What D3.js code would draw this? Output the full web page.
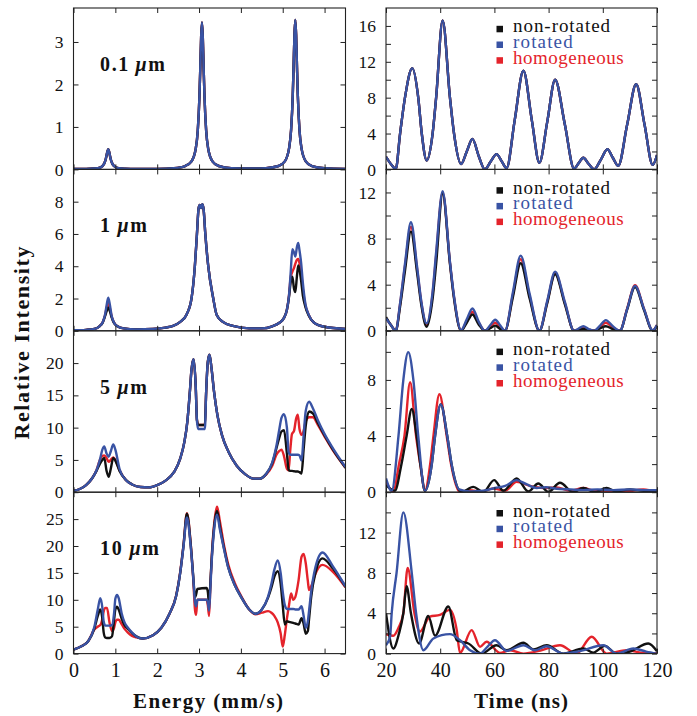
<!DOCTYPE html>
<html><head><meta charset="utf-8">
<script src="https://cdn.jsdelivr.net/npm/d3@7"></script>
<style>body{margin:0;background:#fff}</style>
</head><body>
<svg id="chart" width="697" height="716"></svg>
<script>
// ---------------- DATA ----------------
const thicknessLabels = ["0.1", "1", "5", "10"];
const seriesNames = ["non-rotated", "rotated", "homogeneous"];
const energyTicks = [0, 1, 2, 3, 4, 5, 6];
const timeTicks = [20, 40, 60, 80, 100, 120];

// Energy spectra (left column)
const energy1 = [0, 0.3, 0.5, 0.65, 0.73, 0.77, 0.79, 0.81, 0.83, 0.85, 0.87, 0.89, 0.93, 0.98, 1.08, 1.23, 1.5, 2.0, 2.4, 2.67, 2.82, 2.92, 2.97, 3.01, 3.03, 3.05, 3.07, 3.09, 3.11, 3.13, 3.17, 3.22, 3.32, 3.47, 3.77, 4.2, 4.6, 4.9, 5.05, 5.15, 5.2, 5.24, 5.26, 5.28, 5.30, 5.32, 5.34, 5.36, 5.40, 5.45, 5.55, 5.70, 6.0, 6.5];
const intensity1 = [0.01, 0.01, 0.02, 0.05, 0.13, 0.24, 0.33, 0.42, 0.475, 0.42, 0.33, 0.24, 0.13, 0.07, 0.03, 0.017, 0.01, 0.013, 0.03, 0.08, 0.19, 0.48, 0.92, 1.73, 2.39, 3.11, 3.46, 3.11, 2.39, 1.73, 0.92, 0.48, 0.19, 0.08, 0.03, 0.02, 0.03, 0.08, 0.19, 0.49, 0.93, 1.76, 2.44, 3.17, 3.52, 3.17, 2.44, 1.76, 0.93, 0.49, 0.19, 0.077, 0.026, 0.009];

const energy2 = [0, 0.3, 0.5, 0.62, 0.7, 0.75, 0.79, 0.83, 0.87, 0.91, 0.96, 1.05, 1.2, 1.5, 1.9, 2.2, 2.38, 2.55, 2.7, 2.82, 2.9, 2.95, 2.99, 3.02, 3.05, 3.08, 3.11, 3.15, 3.22, 3.34, 3.42, 3.57, 3.81, 4.2, 4.5, 4.75, 4.92, 5.03, 5.1, 5.15, 5.19, 5.23, 5.27, 5.30, 5.34, 5.37, 5.40, 5.44, 5.48, 5.54, 5.62, 5.75, 6.0, 6.5];
const nonRot2 = [0.03, 0.06, 0.12, 0.28, 0.52, 0.88, 1.2, 1.45, 1.2, 0.85, 0.52, 0.28, 0.15, 0.09, 0.12, 0.2, 0.3, 0.55, 1.0, 2.0, 4.0, 6.0, 7.6, 7.8, 7.6, 7.85, 7.5, 6.0, 4.0, 2.0, 1.0, 0.55, 0.3, 0.15, 0.15, 0.28, 0.5, 0.8, 1.3, 2.1, 3.0, 3.35, 2.6, 2.4, 3.4, 4.05, 3.8, 3.1, 2.2, 1.5, 0.95, 0.5, 0.25, 0.12];
const rot2 = [0.03, 0.06, 0.12, 0.28, 0.55, 0.95, 1.55, 2.05, 1.6, 0.95, 0.55, 0.28, 0.15, 0.09, 0.12, 0.2, 0.3, 0.55, 1.0, 2.0, 4.0, 6.0, 7.6, 7.8, 7.6, 7.85, 7.5, 6.0, 4.0, 2.0, 1.0, 0.55, 0.3, 0.15, 0.15, 0.28, 0.5, 0.8, 1.3, 2.2, 3.6, 5.05, 4.85, 4.6, 5.2, 5.45, 5.0, 4.2, 3.0, 1.7, 1.0, 0.5, 0.25, 0.12];
const homo2 = [0.03, 0.06, 0.12, 0.28, 0.55, 0.92, 1.4, 1.75, 1.4, 0.9, 0.55, 0.28, 0.15, 0.09, 0.12, 0.2, 0.3, 0.55, 1.0, 2.0, 4.0, 6.0, 7.6, 7.8, 7.6, 7.85, 7.5, 6.0, 4.0, 2.0, 1.0, 0.55, 0.3, 0.15, 0.15, 0.28, 0.5, 0.8, 1.3, 2.2, 3.3, 3.65, 3.9, 4.15, 4.4, 4.45, 4.2, 3.6, 2.6, 1.6, 1.0, 0.5, 0.25, 0.12];

const energy3 = [0, 0.15, 0.3, 0.45, 0.55, 0.63, 0.69, 0.735, 0.79, 0.84, 0.89, 0.95, 1.0, 1.1, 1.25, 1.4, 1.6, 1.8, 2.0, 2.2, 2.4, 2.55, 2.65, 2.72, 2.78, 2.82, 2.87, 2.92, 2.95, 2.98, 3.14, 3.17, 3.21, 3.25, 3.30, 3.36, 3.44, 3.55, 3.7, 3.9, 4.1, 4.3, 4.45, 4.6, 4.75, 4.85, 4.92, 4.97, 5.03, 5.1, 5.14, 5.18, 5.22, 5.27, 5.32, 5.36, 5.40, 5.45, 5.50, 5.55, 5.63, 5.72, 5.85, 6.0, 6.2, 6.5];
const nonRot3 = [0.2, 0.5, 1.1, 2.2, 3.3, 4.4, 5.0, 5.3, 3.3, 2.4, 3.6, 5.3, 4.9, 3.3, 1.9, 1.2, 0.8, 0.75, 1.1, 1.8, 3.1, 5.2, 7.8, 10.9, 15.5, 19.0, 20.6, 16.5, 11.2, 10.4, 10.4, 15.5, 20.2, 21.3, 19.1, 15.5, 11.9, 8.8, 6.3, 4.1, 2.8, 2.1, 2.1, 2.8, 4.5, 6.8, 8.5, 9.4, 9.6, 6.0, 3.5, 3.3, 3.3, 3.25, 3.2, 3.2, 3.1, 2.9, 6.7, 10.3, 12.5, 12.2, 10.6, 8.8, 6.6, 3.8];
const rot3 = [0.2, 0.5, 1.1, 2.2, 3.4, 5.0, 6.6, 7.1, 6.0, 5.5, 6.3, 7.4, 6.6, 3.6, 1.9, 1.2, 0.8, 0.75, 1.1, 1.8, 3.1, 5.2, 7.8, 10.9, 15.5, 19.0, 20.6, 16.5, 11.0, 9.8, 9.8, 15.5, 20.2, 21.3, 19.1, 15.5, 11.9, 8.8, 6.3, 4.1, 2.8, 2.1, 2.1, 2.8, 4.6, 7.2, 9.8, 11.5, 12.1, 10.0, 6.2, 5.8, 5.8, 5.8, 5.8, 5.8, 5.7, 4.9, 8.8, 12.6, 14.0, 13.0, 11.0, 9.0, 6.8, 3.9];
const homo3 = [0.2, 0.5, 1.1, 2.2, 3.4, 5.0, 5.6, 5.7, 5.3, 4.7, 5.0, 5.4, 5.0, 3.4, 1.9, 1.2, 0.8, 0.75, 1.1, 1.8, 3.1, 5.2, 7.8, 10.9, 15.5, 19.0, 20.6, 16.5, 11.2, 10.4, 10.4, 15.5, 20.2, 21.3, 19.1, 15.5, 11.9, 8.8, 6.3, 4.1, 2.8, 2.1, 2.1, 2.7, 4.1, 5.8, 6.4, 6.6, 5.6, 3.6, 3.4, 6.5, 9.0, 9.5, 11.4, 12.0, 9.8, 8.9, 9.5, 11.0, 11.6, 11.6, 10.3, 8.6, 6.5, 3.8];

const energy4 = [0, 0.2, 0.35, 0.5, 0.58, 0.64, 0.69, 0.72, 0.76, 0.8, 0.86, 0.92, 0.97, 1.0, 1.04, 1.08, 1.15, 1.22, 1.3, 1.4, 1.5, 1.65, 1.9, 2.1, 2.3, 2.45, 2.55, 2.63, 2.71, 2.8, 2.86, 2.905, 2.93, 2.96, 3.18, 3.21, 3.24, 3.27, 3.3, 3.36, 3.43, 3.5, 3.6, 3.7, 3.85, 4.0, 4.2, 4.35, 4.5, 4.65, 4.73, 4.8, 4.88, 4.95, 5.0, 5.05, 5.1, 5.15, 5.2, 5.25, 5.3, 5.38, 5.45, 5.5, 5.55, 5.6, 5.63, 5.68, 5.78, 5.95, 6.2, 6.5];
const nonRot4 = [0.75, 1.4, 2.3, 4.7, 7.0, 8.2, 6.5, 4.0, 3.0, 2.9, 2.9, 3.2, 6.3, 8.2, 8.7, 8.2, 6.5, 5.3, 4.6, 3.8, 3.2, 2.8, 3.4, 4.8, 7.5, 10.6, 15.0, 20.2, 26.0, 20.4, 14.5, 10.5, 11.0, 12.0, 12.2, 11.5, 9.0, 13.0, 17.3, 23.5, 26.5, 23.5, 19.5, 16.0, 12.8, 10.6, 8.2, 7.4, 8.2, 10.4, 12.3, 14.3, 15.3, 13.0, 9.0, 5.4, 6.0, 5.9, 5.8, 5.7, 5.6, 5.4, 6.6, 5.5, 3.7, 4.2, 6.5, 10.5, 15.0, 17.7, 15.8, 12.4];
const rot4 = [0.75, 1.4, 2.3, 5.0, 8.2, 10.3, 8.5, 6.0, 5.2, 5.2, 5.2, 5.3, 7.5, 10.2, 10.9, 10.3, 7.5, 5.8, 4.8, 3.9, 3.2, 2.8, 3.4, 4.8, 7.5, 10.6, 15.0, 20.0, 25.3, 20.0, 14.3, 9.5, 8.8, 10.0, 10.0, 9.5, 8.0, 12.0, 16.8, 23.0, 25.8, 23.0, 19.3, 15.9, 12.8, 10.6, 8.2, 7.4, 8.2, 10.6, 13.0, 15.6, 17.3, 15.0, 11.5, 9.0, 8.3, 8.3, 8.3, 8.3, 8.2, 8.2, 8.8, 7.0, 4.8, 6.0, 8.0, 11.5, 16.0, 18.8, 16.2, 12.5];
const homo4 = [0.75, 1.4, 2.3, 4.5, 5.0, 5.3, 6.5, 7.8, 8.5, 8.5, 5.8, 4.2, 4.8, 5.8, 6.3, 6.3, 5.5, 4.6, 3.9, 3.3, 3.0, 2.8, 3.4, 4.8, 7.5, 10.7, 15.2, 20.3, 26.1, 20.5, 14.0, 8.0, 7.2, 10.0, 10.0, 9.0, 7.0, 12.5, 17.5, 24.0, 27.3, 24.5, 20.0, 16.5, 13.2, 10.8, 8.2, 7.3, 7.6, 7.9, 7.6, 7.0, 5.8, 3.8, 1.3, 3.5, 6.5, 9.0, 11.2, 10.0, 10.5, 13.7, 18.0, 18.5, 16.8, 13.5, 11.8, 12.5, 14.8, 16.5, 15.2, 12.3];

// Time spectra (right column)
const time1 = [20, 21.8, 23.6, 25.2, 27.0, 29.7, 31.9, 33.2, 35.0, 37.2, 38.5, 40.9, 43.6, 45.1, 47.7, 49.8, 51.9, 54.2, 56.5, 58.7, 60.8, 62.7, 64.5, 67.5, 70.7, 73.8, 76.6, 79.5, 82.4, 86.0, 89.4, 91.1, 92.8, 94.8, 96.8, 99.3, 101.7, 103.7, 105.7, 109.0, 112.3, 115.4, 118.4, 120];
const signal1 = [1.4, 0.6, 0.05, 4.0, 8.0, 11.3, 8.0, 4.0, 1.0, 4.0, 8.0, 16.6, 8.0, 4.0, 0.6, 2.0, 3.4, 1.5, 0.0, 0.9, 1.7, 0.9, 0.15, 5.5, 11.0, 5.5, 0.75, 5.3, 10.0, 5.0, 0.1, 0.7, 1.3, 0.6, 0.0, 1.1, 2.25, 1.3, 0.4, 5.0, 9.5, 5.0, 0.5, 1.6];

const time2 = [20, 21.8, 23.6, 25.2, 27.0, 29.2, 31.5, 33.0, 35.0, 37.2, 38.5, 40.9, 43.6, 45.1, 47.7, 49.8, 51.9, 54.2, 56.5, 58.5, 60.3, 62.2, 63.9, 66.8, 69.7, 73.0, 76.6, 79.5, 82.4, 86.0, 89.4, 91.1, 92.8, 94.8, 96.8, 99.0, 101.1, 103.7, 106.3, 109.0, 111.9, 115.2, 118.4, 120];
const nonRotT2 = [1.2, 0.5, 0.0, 2.1, 5.2, 8.6, 5.0, 2.3, 0.35, 2.8, 5.8, 11.9, 5.8, 2.8, 0.0, 0.7, 1.42, 0.55, 0.0, 0.22, 0.45, 0.15, 0.0, 2.9, 5.86, 2.8, 0.0, 2.4, 4.9, 2.3, 0.0, 0.07, 0.15, 0.05, 0.0, 0.2, 0.4, 0.15, 0.0, 1.85, 3.8, 1.8, 0.0, 0.45];
const rotT2 = [1.07, 0.5, 0.0, 2.4, 5.8, 9.42, 5.5, 2.6, 0.64, 3.4, 6.8, 12.1, 6.0, 3.0, 0.06, 1.0, 1.94, 0.8, 0.0, 0.5, 0.96, 0.45, 0.0, 3.3, 6.52, 3.2, 0.0, 2.6, 5.13, 2.5, 0.0, 0.2, 0.4, 0.15, 0.0, 0.45, 0.93, 0.4, 0.0, 1.9, 3.9, 1.9, 0.05, 0.5];
const homoT2 = [1.1, 0.5, 0.0, 2.3, 5.6, 9.0, 5.3, 2.5, 0.5, 3.2, 6.5, 12.0, 5.9, 2.9, 0.03, 0.85, 1.65, 0.7, 0.0, 0.35, 0.7, 0.3, 0.0, 3.1, 6.2, 3.0, 0.0, 2.5, 5.0, 2.4, 0.0, 0.12, 0.25, 0.1, 0.0, 0.35, 0.7, 0.3, 0.0, 1.95, 3.95, 1.9, 0.03, 0.5];

const time3NonRot = [20, 23.3, 25.5, 27.6, 29.5, 31.3, 32.8, 34.4, 36.9, 38.1, 40.2, 42.6, 44.2, 47.9, 52.2, 55.9, 59.9, 63.3, 68.2, 72.5, 76.2, 79.9, 84.2, 89.1, 92.8, 97.1, 101.4, 105, 110, 115, 120];
const nonRotT3 = [0.5, 0.1, 1.8, 4.0, 5.93, 4.0, 1.8, 0.1, 2.0, 4.0, 6.26, 4.0, 2.0, 0.0, 0.38, 0.0, 0.86, 0.1, 0.98, 0.05, 0.62, 0.02, 0.67, 0.0, 0.3, 0.0, 0.3, 0.05, 0.2, 0.1, 0.1];
const time3Rot = [20, 22.1, 24.6, 26.4, 28.2, 30.1, 31.9, 34.4, 36.9, 38.1, 40.2, 42.6, 44.2, 47.0, 51, 55.9, 60.2, 64, 68.2, 72, 75.6, 79, 83, 88, 92.8, 98, 104, 110, 115, 120];
const rotT3 = [0.98, 0.1, 4.0, 8.0, 9.98, 8.0, 4.0, 0.1, 2.0, 4.0, 6.26, 4.0, 2.0, 0.2, 0.05, 0.1, 0.3, 0.45, 0.86, 0.55, 0.3, 0.35, 0.25, 0.2, 0.15, 0.2, 0.15, 0.2, 0.15, 0.14];
const time3Homo = [20, 22.7, 24.8, 26.8, 28.9, 31.1, 32.8, 34.4, 36.3, 37.5, 39.7, 42.4, 44.0, 47.3, 51, 55, 59.6, 64, 68.2, 73.1, 78.1, 83, 88, 92.8, 97, 102.7, 108, 115, 120];
const homoT3 = [0.74, 0.05, 2.0, 4.0, 7.83, 4.0, 1.8, 0.1, 2.0, 4.0, 6.98, 4.0, 2.0, 0.0, 0.14, 0.05, 0.26, 0.1, 0.74, 0.45, 0.3, 0.33, 0.1, 0.3, 0.1, 0.1, 0.05, 0.2, 0.0];

const time4NonRot = [20, 22.7, 24.8, 26.4, 27.6, 29.2, 32.2, 35.6, 38.1, 43.0, 46.1, 48.0, 50.4, 55.3, 60.8, 64.5, 70.7, 74.4, 79.3, 85.4, 92.8, 96.5, 100.8, 105, 110, 116.8, 120];
const nonRotT4 = [4.0, 0.5, 2.0, 4.0, 6.67, 4.0, 1.0, 3.73, 1.77, 4.67, 1.33, 1.17, 1.0, 0.0, 0.83, 0.33, 1.07, 0.4, 0.83, 0.0, 0.5, 0.1, 0.77, 0.0, 0.2, 1.0, 0.23];
const time4Rot = [20, 21.5, 22.1, 23.9, 26.4, 29.5, 31.1, 33.8, 37.5, 43.6, 47.3, 51, 54.7, 57.5, 60.2, 64.5, 70.7, 75, 79.3, 85.4, 91.6, 100.2, 105.1, 111.3, 116, 120];
const rotT4 = [0.83, 1.67, 4.0, 8.0, 14.0, 8.0, 4.0, 0.33, 1.5, 1.93, 1.33, 0.33, 0.0, 0.7, 1.33, 0.27, 0.83, 0.33, 0.73, 0.0, 0.25, 0.83, 0.0, 0.5, 0.2, 0.0];
const time4Homo = [20, 22.7, 24.5, 26.4, 28.0, 30.5, 32.5, 36.2, 39.9, 43.6, 46.1, 47.3, 51.6, 54.7, 57.1, 62, 65.8, 70.7, 77, 84.2, 90.3, 95.9, 101.4, 108.8, 114, 120];
const homoT4 = [1.93, 1.77, 2.5, 4.0, 8.5, 4.0, 2.17, 3.67, 3.83, 4.33, 2.33, 0.07, 2.33, 0.67, 1.17, 0.07, 0.33, 0.0, 0.3, 0.83, 0.0, 1.67, 0.0, 0.33, 0.1, 0.05];

// axis ranges / ticks per row
const leftYMax = [3.8, 10, 25, 30];
const leftYTicks = [[0, 1, 2, 3], [0, 2, 4, 6, 8], [0, 5, 10, 15, 20], [0, 5, 10, 15, 20, 25]];
const rightYMax = [18, 14, 11.5, 16];
const rightYTicks = [[0, 2, 4, 6, 8, 10, 12, 14, 16], [0, 2, 4, 6, 8, 10, 12], [0, 2, 4, 6, 8, 10], [0, 2, 4, 6, 8, 10, 12, 14]];
const rightYLabels = [[0, 4, 8, 12, 16], [0, 4, 8, 12], [0, 4, 8], [0, 4, 8, 12]];

// ---------------- BUILD ----------------
const zip = (xs, ys) => xs.map((x, i) => [x, ys[i]]);
const leftSeries = [
  {homo: zip(energy1, intensity1), nonrot: zip(energy1, intensity1), rot: zip(energy1, intensity1)},
  {homo: zip(energy2, homo2), nonrot: zip(energy2, nonRot2), rot: zip(energy2, rot2)},
  {homo: zip(energy3, homo3), nonrot: zip(energy3, nonRot3), rot: zip(energy3, rot3)},
  {homo: zip(energy4, homo4), nonrot: zip(energy4, nonRot4), rot: zip(energy4, rot4)}
];
const rightSeries = [
  {homo: zip(time1, signal1), nonrot: zip(time1, signal1), rot: zip(time1, signal1)},
  {homo: zip(time2, homoT2), nonrot: zip(time2, nonRotT2), rot: zip(time2, rotT2)},
  {homo: zip(time3Homo, homoT3), nonrot: zip(time3NonRot, nonRotT3), rot: zip(time3Rot, rotT3)},
  {homo: zip(time4Homo, homoT4), nonrot: zip(time4NonRot, nonRotT4), rot: zip(time4Rot, rotT4)}
];

const FONT = "'Liberation Serif','Times New Roman',serif";
const COL = {nonrot: "#111111", rot: "#3953a4", homo: "#e4232b"};
const DRAW_ORDER = ["homo", "nonrot", "rot"];
const LX = [73.5, 345.5], RX = [386, 657];
const TOP = 8, PH = 161.4;
const AX = "#222";

const svg = d3.select("#chart");
const xE = d3.scaleLinear().domain([0, 6.5]).range(LX);
const xT = d3.scaleLinear().domain([20, 120]).range(RX);

function styleAxis(g, size, showText) {
  g.select(".domain").remove();
  g.selectAll(".tick line").attr("stroke", AX).attr("stroke-width", 1);
  g.selectAll(".tick text").attr("font-family", FONT).attr("font-size", size).attr("fill", "#111")
    .style("display", showText ? null : "none");
  g.attr("font-family", null).attr("font-size", null);
}

function panel(row, side) {
  const x = side === "L" ? xE : xT;
  const xr = side === "L" ? LX : RX;
  const y0 = TOP + PH * (row + 1), y1 = TOP + PH * row;
  const ymax = side === "L" ? leftYMax[row] : rightYMax[row];
  const y = d3.scaleLinear().domain([0, ymax]).range([y0, y1]);
  const yt = side === "L" ? leftYTicks[row] : rightYTicks[row];
  const yl = side === "L" ? leftYTicks[row] : rightYLabels[row];
  const xt = side === "L" ? energyTicks : timeTicks;
  const g = svg.append("g");
  const cid = "clip" + side + row;
  svg.append("clipPath").attr("id", cid).append("rect")
    .attr("x", xr[0]).attr("y", y1).attr("width", xr[1] - xr[0]).attr("height", PH);

  // curves
  const line = d3.line().x(d => x(d[0])).y(d => y(d[1])).curve(d3.curveMonotoneX);
  const ser = side === "L" ? leftSeries[row] : rightSeries[row];
  const cg = g.append("g").attr("clip-path", `url(#${cid})`);
  DRAW_ORDER.forEach(k => {
    cg.append("path").datum(ser[k]).attr("d", line).attr("fill", "none")
      .attr("stroke", COL[k]).attr("stroke-width", 2.4).attr("stroke-linejoin", "round");
  });

  // axes (inward ticks)
  const gl = g.append("g").attr("transform", `translate(${xr[0]},0)`)
    .call(d3.axisLeft(y).tickValues(yt).tickSize(-5).tickPadding(10)
      .tickFormat(d => yl.includes(d) ? d3.format("d")(d) : ""));
  styleAxis(gl, "17.5px", true);
  const gr = g.append("g").attr("transform", `translate(${xr[1]},0)`)
    .call(d3.axisRight(y).tickValues(yt).tickSize(-5).tickFormat(""));
  styleAxis(gr, "10px", false);
  const gt = g.append("g").attr("transform", `translate(0,${y1})`)
    .call(d3.axisTop(x).tickValues(xt).tickSize(-5).tickFormat(""));
  styleAxis(gt, "10px", false);
  const gb = g.append("g").attr("transform", `translate(0,${y0})`)
    .call(d3.axisBottom(x).tickValues(xt).tickSize(-5).tickPadding(9).tickFormat(d3.format("d")));
  styleAxis(gb, "20px", row === 3);

  g.append("rect").attr("x", xr[0]).attr("y", y1).attr("width", xr[1] - xr[0]).attr("height", PH)
    .attr("fill", "none").attr("stroke", AX).attr("stroke-width", 1.1);

  if (side === "L") {
    const lens = [65, 47, 47, 59];
    const t = g.append("text").attr("x", 100).attr("y", y1 + 63)
      .attr("font-family", FONT).attr("font-weight", "bold").attr("font-size", "20px")
      .attr("fill", "#111").attr("textLength", lens[row]).attr("lengthAdjust", "spacing");
    t.append("tspan").text(thicknessLabels[row] + "\u2009");
    t.append("tspan").attr("font-style", "italic").text("\u03BC");
    t.append("tspan").text("m");
  } else {
    const keys = ["nonrot", "rot", "homo"];
    const spacing = [0.95, 1.15, 0.5];
    const base = [24.3, 40, 55.7];
    keys.forEach((k, i) => {
      g.append("rect").attr("x", 496.5).attr("y", y1 + base[i] - 6.5).attr("width", 6.5).attr("height", 6.5)
        .attr("fill", COL[k]);
    });
    const lt = g.append("text").attr("font-family", FONT).attr("font-size", "19px");
    keys.forEach((k, i) => {
      lt.append("tspan").attr("x", 513).attr("y", y1 + base[i]).attr("fill", COL[k])
        .attr("letter-spacing", spacing[i]).text(seriesNames[i]);
    });
  }
}

for (let r = 0; r < 4; r++) { panel(r, "L"); panel(r, "R"); }

// axis titles
svg.append("text").attr("x", 208).attr("y", 708).attr("text-anchor", "middle")
  .attr("font-family", FONT).attr("font-weight", "bold").attr("font-size", "21px").attr("fill", "#111")
  .attr("textLength", 150).attr("lengthAdjust", "spacing").text("Energy (mm/s)");
svg.append("text").attr("x", 521).attr("y", 708).attr("text-anchor", "middle")
  .attr("font-family", FONT).attr("font-weight", "bold").attr("font-size", "21px").attr("fill", "#111")
  .attr("textLength", 94).attr("lengthAdjust", "spacing").text("Time (ns)");
svg.append("text").attr("transform", "translate(29,343) rotate(-90)").attr("text-anchor", "middle")
  .attr("font-family", FONT).attr("font-weight", "bold").attr("font-size", "22px").attr("fill", "#111")
  .attr("textLength", 193).attr("lengthAdjust", "spacing").text("Relative Intensity");
</script>
</body></html>
